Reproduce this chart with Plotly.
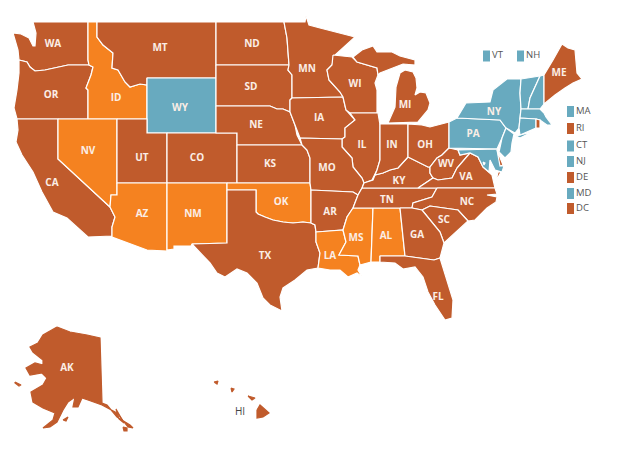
import plotly.graph_objects as go

# The map's topojson cannot be fetched offline, so outlines are traced by eye from the reference.
BROWN, ORANGE, BLUE = "#c05b2c", "#f58220", "#68aabf"

blue_states = ["WY","NY","PA","VT","NH","MA","CT","NJ","MD"]
orange_states = ["ID","NV","AZ","NM","OK","LA","MS","AL"]
no_border_states = ["AK","HI"]

outlines = {
"WA": [[(33,22),(88,22),(88,60),(89,65),(68,65),(45,70),(35,71),(30,67),(27,62),(19,60),(18,50),(13,33),(21,34),(29,38),(33,46),(35,46),(36,33)]],
"OR": [[(19,60),(27,62),(30,67),(35,71),(45,70),(68,65),(89,65),(93,67),(91,75),(86,88),(88,90),(88,119),(17,119),(14,108),(17,90),(19,73)]],
"ID": [[(88,22),(97,22),(97,37),(103,45),(113,53),(112,68),(118,70),(125,82),(130,87),(140,84),(147,85),(147,119),(88,119),(88,90),(86,88),(91,75),(93,67),(89,65),(88,60)]],
"MT": [[(97,22),(216,22),(216,78),(147,78),(147,85),(140,84),(130,87),(125,82),(118,70),(112,68),(113,53),(103,45),(97,37)]],
"WY": [[(147,78),(216,78),(216,133),(147,133)]],
"CA": [[(17,119),(58,119),(58,159),(110,207),(115,217),(112,227),(112,236),(88,237),(67,218),(53,212),(42,192),(33,172),(22,155),(16,142),(18,130)]],
"NV": [[(58,119),(117,119),(117,195),(111,195),(110,207),(58,159)]],
"UT": [[(117,119),(147,119),(147,133),(167,133),(167,183),(117,183)]],
"CO": [[(167,133),(237,133),(237,183),(167,183)]],
"AZ": [[(117,183),(167,183),(167,251),(147,250),(112,237),(112,227),(115,217),(110,207),(111,195),(117,195)]],
"NM": [[(167,183),(227,183),(227,243),(192,244),(191,246),(174,246),(174,249),(167,250)]],
"ND": [[(216,22),(284,22),(287,38),(289,65),(216,65)]],
"SD": [[(216,65),(289,65),(288,70),(292,75),(292,98),(290,100),(290,112),(283,109),(277,109),(270,106),(216,106)]],
"NE": [[(216,106),(270,106),(277,109),(283,109),(290,112),(295,125),(297,135),(302,145),(237,145),(237,133),(216,133)]],
"KS": [[(237,145),(302,145),(307,150),(310,158),(310,183),(237,183)]],
"OK": [[(227,183),(310,183),(311,190),(311,223),(303,222),(293,223),(283,222),(273,220),(265,217),(258,214),(256,212),(256,190),(227,190)]],
"TX": [[(227,190),(256,190),(256,212),(258,214),(265,217),(273,220),(283,222),(293,223),(303,222),(311,223),(315,225),(316,232),(316,242),(320,253),(318,268),(307,270),(295,280),(283,288),(280,297),(282,311),(270,305),(263,298),(257,283),(247,273),(237,269),(225,277),(217,273),(210,263),(192,244),(227,243)]],
"MN": [[(284,22),(305,22),(306,16),(309,25),(320,28),(340,33),(355,37),(335,55),(332,65),(327,70),(329,80),(340,92),(343,97),(292,98),(292,75),(288,70),(289,65),(287,38)]],
"IA": [[(292,98),(343,97),(346,110),(355,120),(345,128),(345,137),(342,139),(300,138),(295,125),(290,112),(290,100)]],
"WI": [[(333,55),(352,57),(357,62),(377,68),(378,75),(375,83),(377,90),(377,113),(350,113),(346,110),(343,97),(340,92),(329,80),(327,70),(332,65)]],
"IL": [[(350,113),(378,113),(380,125),(380,160),(377,170),(372,180),(364,183),(362,178),(353,167),(352,158),(342,147),(342,139),(345,137),(345,128),(355,120)]],
"MO": [[(300,138),(342,139),(342,147),(352,158),(353,167),(362,178),(364,183),(362,188),(358,195),(353,192),(311,190),(310,183),(310,158),(307,150),(302,145)]],
"AR": [[(311,190),(353,192),(358,195),(353,208),(347,217),(343,230),(316,232),(315,225),(311,223)]],
"LA": [[(316,232),(343,230),(346,242),(339,255),(358,256),(360,265),(358,270),(362,277),(357,273),(348,277),(340,270),(330,270),(318,268),(320,253),(316,242)]],
"MS": [[(353,208),(373,208),(371,262),(360,265),(358,256),(339,255),(346,242),(343,230),(347,217)]],
"AL": [[(373,208),(400,208),(405,256),(380,256),(380,262),(375,262),(371,262)]],
"TN": [[(362,188),(437,188),(432,197),(413,203),(412,208),(353,208),(358,195)]],
"KY": [[(362,188),(418,188),(433,178),(430,173),(430,167),(428,167),(408,157),(398,168),(390,170),(383,173),(375,175),(373,180),(367,182),(364,183)]],
"IN": [[(380,124),(408,124),(408,157),(398,168),(390,170),(383,173),(375,175),(377,170),(380,160)]],
"MI": [[(405,70),(413,72),(416,78),(417,88),(415,95),(420,92),(426,93),(430,103),(428,110),(418,122),(388,123),(395,107),(396,87),(400,73)],
       [(353,57),(362,50),(373,46),(377,52),(392,52),(400,56),(415,60),(415,65),(403,64),(390,69),(380,73),(378,75),(377,68),(357,62)]],
"OH": [[(408,124),(422,125),(430,127),(449,122),(449,148),(442,155),(437,158),(430,167),(428,167),(408,157)]],
"WV": [[(449,148),(458,150),(460,155),(470,153),(457,168),(452,178),(438,180),(433,178),(430,173),(430,167),(437,158),(442,155)]],
"VA": [[(470,153),(478,157),(483,167),(492,175),(495,188),(418,188),(433,178),(438,180),(452,178),(457,168)],
       [(498,172),(501,172),(496,181)]],
"NC": [[(437,188),(495,188),(497,194),(487,195),(497,197),(496,202),(487,208),(475,220),(468,221),(458,210),(430,206),(422,210),(412,208),(413,203),(432,197)]],
"SC": [[(422,210),(430,206),(458,210),(468,221),(444,243),(440,232)]],
"GA": [[(400,208),(412,208),(422,210),(440,232),(444,243),(440,258),(434,260),(405,256)]],
"FL": [[(380,256),(405,256),(434,260),(440,258),(453,300),(452,318),(445,320),(435,305),(428,292),(423,277),(415,267),(403,269),(395,263),(380,262)]],
"PA": [[(449,122),(457,118),(500,120),(506,128),(502,138),(497,149),(449,148)]],
"NY": [[(457,118),(466,103),(490,102),(493,90),(507,79),(521,79),(520,93),(521,109),(520,118),(519,128),(515,133),(506,128),(500,120)],
       [(516,136),(532,132),(520,138)]],
"VT": [[(521,79),(540,76),(530,98),(528,109),(521,109),(520,93)]],
"NH": [[(540,76),(544,75),(544,104),(540,109),(528,109),(530,98)]],
"MA": [[(521,109),(540,109),(544,113),(546,117),(552,125),(547,125),(540,120),(536,119),(520,118)]],
"CT": [[(520,118),(536,119),(536,128),(520,135),(519,128)]],
"RI": [[(536,119),(540,120),(540,128),(536,128)]],
"NJ": [[(506,128),(514,134),(512,143),(511,152),(505,158),(499,152),(502,138)]],
"MD": [[(458,150),(497,149),(501,166),(504,166),(502,172),(495,170),(490,160),(489,172),(483,167),(478,157),(470,153),(460,155)]],
"DE": [[(497,150),(499,155),(503,165),(500,166)]],
"DC": [[(483,162),(485,163),(484,165)]],
"ME": [[(562,44),(568,48),(575,50),(577,73),(582,79),(573,83),(565,88),(555,95),(544,104),(544,75),(553,60)]],
"AK": [[(57,327),(70,332),(87,335),(100,338),(102,403),(107,405),(117,417),(130,425),(133,428),(128,427),(117,413),(102,405),(88,400),(82,398),(78,407),(73,407),(75,397),(68,402),(63,410),(57,422),(50,427),(43,428),(53,420),(55,413),(43,408),(33,402),(31,392),(43,385),(47,378),(42,373),(30,375),(26,368),(35,363),(43,365),(43,360),(33,352),(30,347),(38,343),(43,335)],
       [(15,382),(21,385),(19,386),(15,383)],[(63,420),(68,417),(66,421)],[(123,427),(127,428),(127,431),(124,431)],[(116,409),(121,417),(124,423),(119,419)]],
"HI": [[(257,410),(260,405),(269,413),(263,417),(257,418)],[(248,396),(255,398),(252,400)],[(231,388),(234,389),(232,392)],[(214,382),(218,381),(217,384)]],
}

label_names = ["WA","OR","CA","MT","ID","WY","NV","UT","CO","AZ","NM","ND","SD","NE","KS","OK","TX","MN","IA","MO","AR","LA","WI","IL","IN","MI","OH","KY","TN","MS","AL","GA","SC","NC","VA","WV","PA","NY","ME","FL","AK"]
label_x = [53,51,52,160,116,180,88,142,197,142,193,252,251,256,270,281,265,307,319,327,330,330,355,362,392,405,425,399,387,356,386,417,444,467,466,446,473,494,559,438,67]
label_y = [44,95,183,48,98,108,151,158,158,214,214,44,87,125,164,202,256,69,118,168,212,256,84,145,145,105,145,181,200,238,236,235,220,202,177,164,134,112,73,297,368]

legend_names = ["VT","NH","MA","RI","CT","NJ","DE","MD","DC"]
legend_x = [486.5,520.5,570.5,570.5,570.5,570.5,570.5,570.5,570.5]
legend_y = [56,56,111.5,128.5,146,161.5,177.5,193.5,208.5]


def colour(state):
    if state in blue_states:
        return BLUE
    if state in orange_states:
        return ORANGE
    return BROWN


fig = go.Figure()
for state, parts in outlines.items():
    xs, ys = [], []
    for part in parts:
        xs += [p[0] for p in part] + [part[0][0], None]
        ys += [p[1] for p in part] + [part[0][1], None]
    edge = colour(state) if state in no_border_states else "white"
    fig.add_trace(go.Scatter(x=xs, y=ys, mode="lines", fill="toself", fillcolor=colour(state),
                             line=dict(color=edge, width=1.2), name=state, showlegend=False))

for name, cx, cy in zip(legend_names, legend_x, legend_y):
    fig.add_trace(go.Scatter(x=[cx, cx], y=[cy - 5.5, cy + 5.5], mode="lines",
                             line=dict(color=colour(name), width=7), showlegend=False))

fig.add_trace(go.Scatter(x=label_x, y=label_y, mode="text", text=label_names, showlegend=False,
                         textfont=dict(family="Open Sans", size=10, color="#fbeee6", weight="bold")))
fig.add_trace(go.Scatter(x=[240], y=[412], mode="text", text=["HI"], showlegend=False,
                         textfont=dict(family="Open Sans", size=10, color="#444444")))
fig.add_trace(go.Scatter(x=[c + 5.5 for c in legend_x], y=legend_y, mode="text", text=legend_names,
                         textposition="middle right", showlegend=False,
                         textfont=dict(family="Open Sans", size=9.5, color="#555555")))

fig.update_layout(width=618, height=463, margin=dict(l=0, r=0, t=0, b=0),
                  paper_bgcolor="white", plot_bgcolor="white", hovermode=False)
fig.update_xaxes(range=[0, 618], visible=False, fixedrange=True)
fig.update_yaxes(range=[463, 0], visible=False, fixedrange=True)
fig.write_html("out.html", config={"displayModeBar": False}, post_script="document.body.style.margin='0';")
